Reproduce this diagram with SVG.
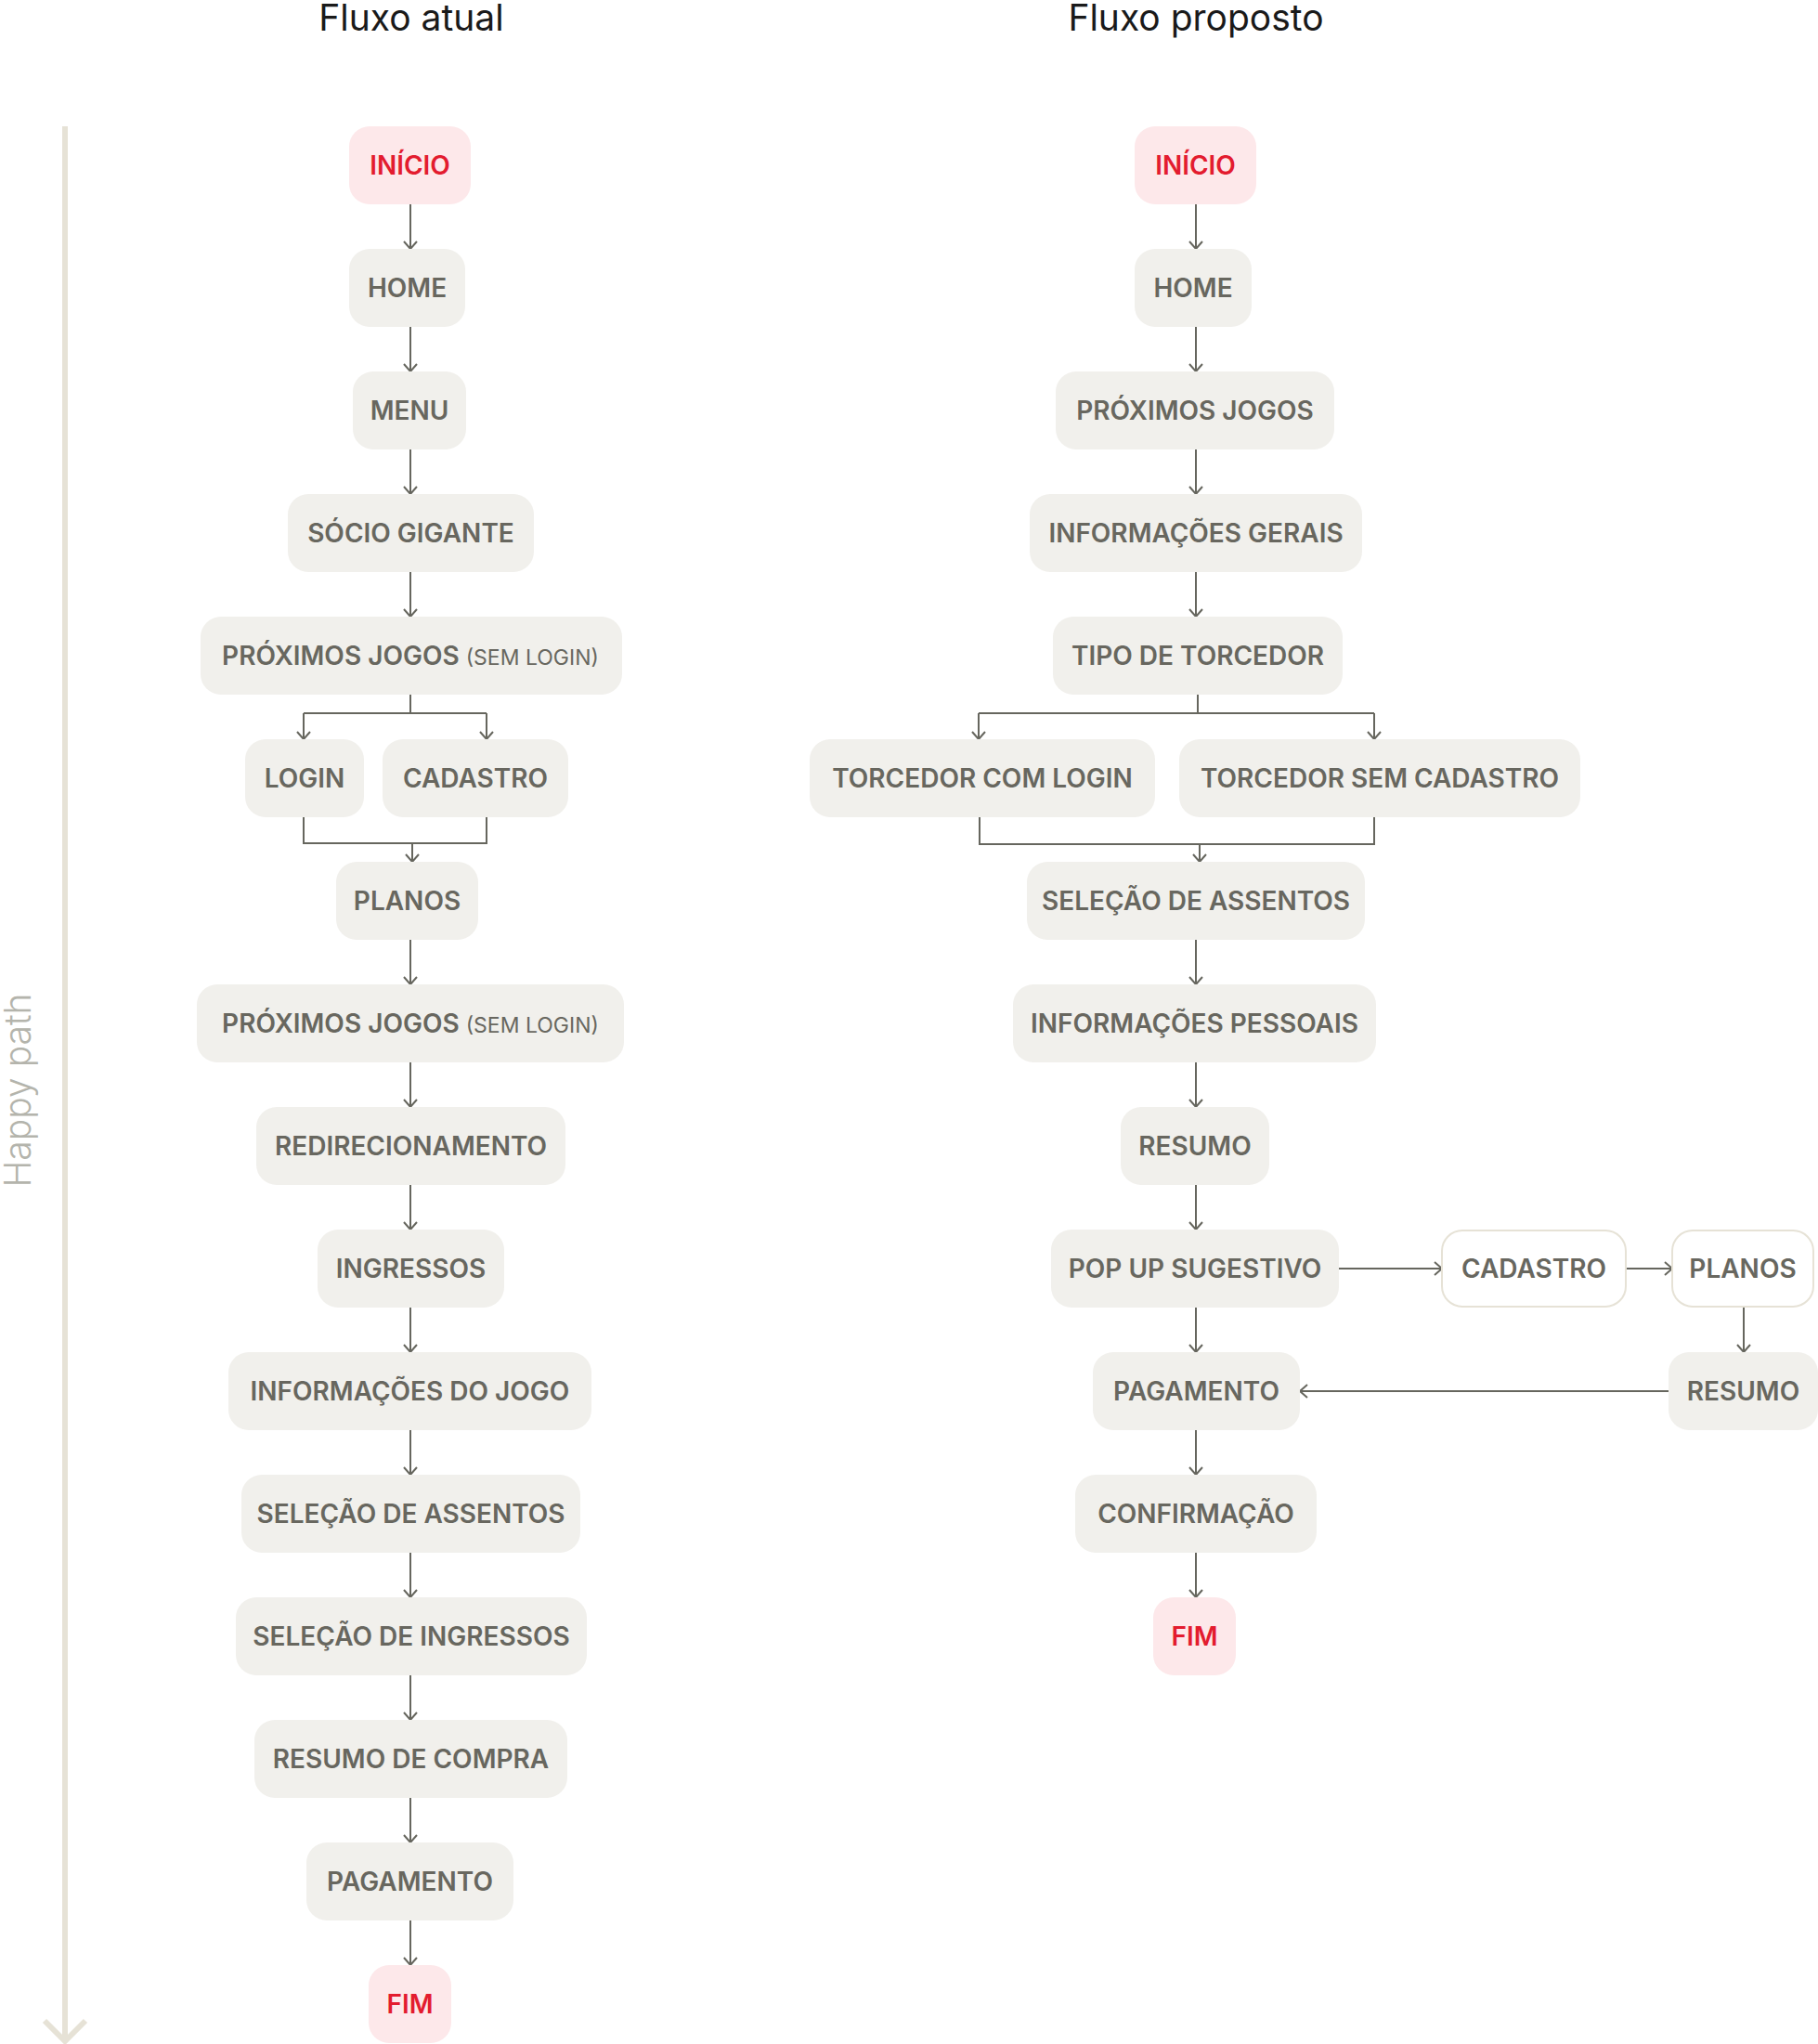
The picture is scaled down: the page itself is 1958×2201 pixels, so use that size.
<svg xmlns="http://www.w3.org/2000/svg" width="1958" height="2201" viewBox="0 0 1958 2201">
<style>
.title{font-family:Inter,"Liberation Sans",sans-serif;font-size:39px;fill:#1a1a1a;text-anchor:middle}
.box{fill:#f1f0ec}
.pink{fill:#fde8ea}
.outl{fill:#ffffff;stroke:#e6e2d6;stroke-width:2}
.lbl{font-family:Inter,"Liberation Sans",sans-serif;font-size:28px;font-weight:600;fill:#68675f;text-anchor:middle}
.red{fill:#e31c2f}
.small{font-size:23px;font-weight:400}
.con{fill:none;stroke:#66665e;stroke-width:2}
.arr{marker-end:url(#ah)}
</style>
<defs>
<marker id="ah" markerUnits="userSpaceOnUse" viewBox="-10 -10 20 20" markerWidth="20" markerHeight="20" refX="0" refY="0" orient="auto" overflow="visible">
<path d="M-8,-7 L0,0 L-8,7" fill="none" stroke="#66665e" stroke-width="2"/>
</marker>
</defs>
<rect width="1958" height="2201" fill="#ffffff"/>
<text class="title" x="443" y="33">Fluxo atual</text>
<text class="title" x="1288" y="33">Fluxo proposto</text>
<g id="happy-path">
<line x1="70" y1="136" x2="70" y2="2196" stroke="#e6e2d6" stroke-width="6"/>
<path d="M48,2176 L70,2198 L92,2176" fill="none" stroke="#e6e2d6" stroke-width="6"/>
<text transform="translate(33,1174) rotate(-90)" x="0" y="0" font-family="Inter,'Liberation Sans',sans-serif" font-size="39" font-weight="300" fill="#b4b4ac" text-anchor="middle">Happy path</text>
</g>
<g id="connectors">
<path class="con arr" d="M442,220 V268"/>
<path class="con arr" d="M442,352 V400"/>
<path class="con arr" d="M442,484 V532"/>
<path class="con arr" d="M442,616 V664"/>
<path class="con" d="M442,748 V768 M327,768 H524"/>
<path class="con arr" d="M327,768 V796"/>
<path class="con arr" d="M524,768 V796"/>
<path class="con" d="M327,880 V908 H524 V880"/>
<path class="con arr" d="M444,908 V928"/>
<path class="con arr" d="M442,1012 V1060"/>
<path class="con arr" d="M442,1144 V1192"/>
<path class="con arr" d="M442,1276 V1324"/>
<path class="con arr" d="M442,1408 V1456"/>
<path class="con arr" d="M442,1540 V1588"/>
<path class="con arr" d="M442,1672 V1720"/>
<path class="con arr" d="M442,1804 V1852"/>
<path class="con arr" d="M442,1936 V1984"/>
<path class="con arr" d="M442,2068 V2116"/>
<path class="con arr" d="M1288,220 V268"/>
<path class="con arr" d="M1288,352 V400"/>
<path class="con arr" d="M1288,484 V532"/>
<path class="con arr" d="M1288,616 V664"/>
<path class="con" d="M1290,748 V768 M1054,768 H1480"/>
<path class="con arr" d="M1054,768 V796"/>
<path class="con arr" d="M1480,768 V796"/>
<path class="con" d="M1055,880 V909 H1480 V880"/>
<path class="con arr" d="M1292,909 V928"/>
<path class="con arr" d="M1288,1012 V1060"/>
<path class="con arr" d="M1288,1144 V1192"/>
<path class="con arr" d="M1288,1276 V1324"/>
<path class="con arr" d="M1288,1408 V1456"/>
<path class="con arr" d="M1288,1540 V1588"/>
<path class="con arr" d="M1288,1672 V1720"/>
<path class="con arr" d="M1442,1366 H1553"/>
<path class="con arr" d="M1751,1366 H1801"/>
<path class="con arr" d="M1878,1408 V1456"/>
<path class="con arr" d="M1797,1498 H1400"/>
</g>
<g id="l-inicio"><rect class="pink" x="376" y="136" width="131" height="84" rx="22"/><text class="lbl red" x="441.5" y="188">INÍCIO</text></g>
<g id="l-home"><rect class="box" x="376" y="268" width="125" height="84" rx="22"/><text class="lbl" x="438.5" y="320">HOME</text></g>
<g id="l-menu"><rect class="box" x="380" y="400" width="122" height="84" rx="22"/><text class="lbl" x="441" y="452">MENU</text></g>
<g id="l-socio"><rect class="box" x="310" y="532" width="265" height="84" rx="22"/><text class="lbl" x="442.5" y="584">SÓCIO GIGANTE</text></g>
<g id="l-proximos1"><rect class="box" x="216" y="664" width="454" height="84" rx="22"/><text class="lbl" x="442" y="716">PRÓXIMOS JOGOS <tspan class="small">(SEM LOGIN)</tspan></text></g>
<g id="l-login"><rect class="box" x="264" y="796" width="128" height="84" rx="22"/><text class="lbl" x="328" y="848">LOGIN</text></g>
<g id="l-cadastro"><rect class="box" x="412" y="796" width="200" height="84" rx="22"/><text class="lbl" x="512" y="848">CADASTRO</text></g>
<g id="l-planos"><rect class="box" x="362" y="928" width="153" height="84" rx="22"/><text class="lbl" x="438.5" y="980">PLANOS</text></g>
<g id="l-proximos2"><rect class="box" x="212" y="1060" width="460" height="84" rx="22"/><text class="lbl" x="442" y="1112">PRÓXIMOS JOGOS  <tspan class="small">(SEM LOGIN)</tspan></text></g>
<g id="l-redirecionamento"><rect class="box" x="276" y="1192" width="333" height="84" rx="22"/><text class="lbl" x="442.5" y="1244">REDIRECIONAMENTO</text></g>
<g id="l-ingressos"><rect class="box" x="342" y="1324" width="201" height="84" rx="22"/><text class="lbl" x="442.5" y="1376">INGRESSOS</text></g>
<g id="l-info-jogo"><rect class="box" x="246" y="1456" width="391" height="84" rx="22"/><text class="lbl" x="441.5" y="1508">INFORMAÇÕES DO JOGO</text></g>
<g id="l-assentos"><rect class="box" x="260" y="1588" width="365" height="84" rx="22"/><text class="lbl" x="442.5" y="1640">SELEÇÃO DE ASSENTOS</text></g>
<g id="l-sel-ingressos"><rect class="box" x="254" y="1720" width="378" height="84" rx="22"/><text class="lbl" x="443" y="1772">SELEÇÃO DE INGRESSOS</text></g>
<g id="l-resumo"><rect class="box" x="274" y="1852" width="337" height="84" rx="22"/><text class="lbl" x="442.5" y="1904">RESUMO DE COMPRA</text></g>
<g id="l-pagamento"><rect class="box" x="330" y="1984" width="223" height="84" rx="22"/><text class="lbl" x="441.5" y="2036">PAGAMENTO</text></g>
<g id="l-fim"><rect class="pink" x="397" y="2116" width="89" height="84" rx="22"/><text class="lbl red" x="441.5" y="2168">FIM</text></g>
<g id="r-inicio"><rect class="pink" x="1222" y="136" width="131" height="84" rx="22"/><text class="lbl red" x="1287.5" y="188">INÍCIO</text></g>
<g id="r-home"><rect class="box" x="1222" y="268" width="126" height="84" rx="22"/><text class="lbl" x="1285" y="320">HOME</text></g>
<g id="r-proximos"><rect class="box" x="1137" y="400" width="300" height="84" rx="22"/><text class="lbl" x="1287" y="452">PRÓXIMOS JOGOS</text></g>
<g id="r-info-gerais"><rect class="box" x="1109" y="532" width="358" height="84" rx="22"/><text class="lbl" x="1288" y="584">INFORMAÇÕES GERAIS</text></g>
<g id="r-tipo"><rect class="box" x="1134" y="664" width="312" height="84" rx="22"/><text class="lbl" x="1290" y="716">TIPO DE TORCEDOR</text></g>
<g id="r-com-login"><rect class="box" x="872" y="796" width="372" height="84" rx="22"/><text class="lbl" x="1058" y="848">TORCEDOR COM LOGIN</text></g>
<g id="r-sem-cadastro"><rect class="box" x="1270" y="796" width="432" height="84" rx="22"/><text class="lbl" x="1486" y="848">TORCEDOR SEM CADASTRO</text></g>
<g id="r-assentos"><rect class="box" x="1106" y="928" width="364" height="84" rx="22"/><text class="lbl" x="1288" y="980">SELEÇÃO DE ASSENTOS</text></g>
<g id="r-info-pessoais"><rect class="box" x="1091" y="1060" width="391" height="84" rx="22"/><text class="lbl" x="1286.5" y="1112">INFORMAÇÕES PESSOAIS</text></g>
<g id="r-resumo"><rect class="box" x="1207" y="1192" width="160" height="84" rx="22"/><text class="lbl" x="1287" y="1244">RESUMO</text></g>
<g id="r-popup"><rect class="box" x="1132" y="1324" width="310" height="84" rx="22"/><text class="lbl" x="1287" y="1376">POP UP SUGESTIVO</text></g>
<g id="r-cadastro"><rect class="outl" x="1553" y="1325" width="198" height="82" rx="22"/><text class="lbl" x="1652" y="1376">CADASTRO</text></g>
<g id="r-planos"><rect class="outl" x="1801" y="1325" width="152" height="82" rx="22"/><text class="lbl" x="1877" y="1376">PLANOS</text></g>
<g id="r-pagamento"><rect class="box" x="1177" y="1456" width="223" height="84" rx="22"/><text class="lbl" x="1288.5" y="1508">PAGAMENTO</text></g>
<g id="r-resumo2"><rect class="box" x="1797" y="1456" width="161" height="84" rx="22"/><text class="lbl" x="1877.5" y="1508">RESUMO</text></g>
<g id="r-confirmacao"><rect class="box" x="1158" y="1588" width="260" height="84" rx="22"/><text class="lbl" x="1288" y="1640">CONFIRMAÇÃO</text></g>
<g id="r-fim"><rect class="pink" x="1242" y="1720" width="89" height="84" rx="22"/><text class="lbl red" x="1286.5" y="1772">FIM</text></g>
</svg>
